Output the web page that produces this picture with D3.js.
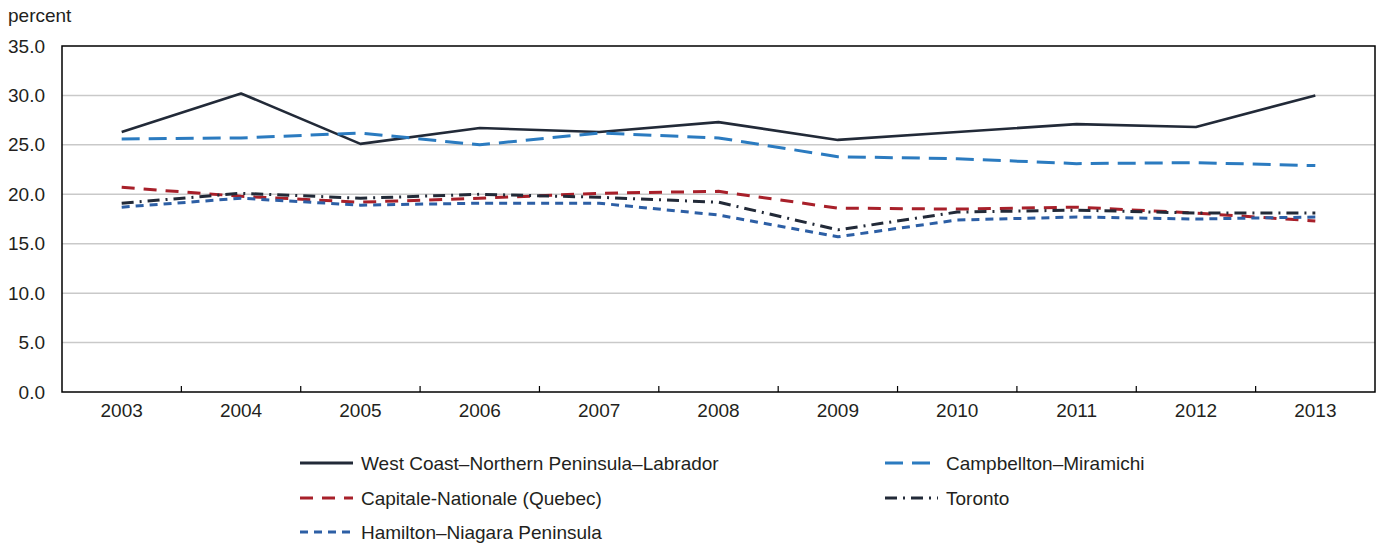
<!DOCTYPE html>
<html><head><meta charset="utf-8">
<script src="https://cdn.jsdelivr.net/npm/d3@7/dist/d3.min.js"></script>
<style>
html,body{margin:0;padding:0;background:#fff;}
text{font-family:"Liberation Sans",Arial,sans-serif;fill:#231f20;}
</style></head>
<body>
<svg id="chart" width="1377" height="544"></svg>
<script>
const years = ["2003","2004","2005","2006","2007","2008","2009","2010","2011","2012","2013"];
const westCoast   = [26.3,30.2,25.1,26.7,26.3,27.3,25.5,26.3,27.1,26.8,30.0];
const campbellton = [25.6,25.7,26.2,25.0,26.2,25.7,23.8,23.6,23.1,23.2,22.9];
const capitale    = [20.7,19.8,19.2,19.6,20.1,20.3,18.6,18.5,18.7,18.1,17.3];
const toronto     = [19.1,20.1,19.6,20.0,19.7,19.2,16.4,18.2,18.4,18.1,18.1];
const hamilton    = [18.7,19.6,18.9,19.1,19.1,17.9,15.7,17.4,17.7,17.5,17.7];
const yTicks = [0,5,10,15,20,25,30,35];
const yLabel = "percent";

const series = [
  {name:"West Coast–Northern Peninsula–Labrador", values:westCoast, color:"#222a38", dash:null, w:2.6},
  {name:"Campbellton–Miramichi", values:campbellton, color:"#2b7bc0", dash:"18,9", w:3},
  {name:"Capitale-Nationale (Quebec)", values:capitale, color:"#a8202a", dash:"13,9", w:3},
  {name:"Toronto", values:toronto, color:"#222a38", dash:"12,6,2,6", w:3},
  {name:"Hamilton–Niagara Peninsula", values:hamilton, color:"#2d5fa5", dash:"8,6", w:3}
];

const FS = 19;
const L=62, R=1375, T=46, B=392;
const svg = d3.select("#chart");
const x = d3.scaleBand().domain(years).range([L,R]).padding(0);
const y = d3.scaleLinear().domain([0,35]).range([B,T]);
const cx = d => x(d)+x.bandwidth()/2;

// grid
svg.append("g").selectAll("line").data(yTicks.filter(t=>t>0 && t<35)).join("line")
  .attr("x1",L).attr("x2",R).attr("y1",d=>y(d)).attr("y2",d=>y(d))
  .attr("stroke","#c9c9c9").attr("stroke-width",1.5);

// y axis labels
const ya = svg.append("g").attr("transform",`translate(${L},0)`)
  .call(d3.axisLeft(y).tickValues(yTicks).tickFormat(d3.format(".1f")).tickSize(0).tickPadding(17));
ya.select(".domain").remove();
ya.selectAll("text").attr("font-size",FS).attr("font-family","Liberation Sans, Arial, sans-serif").attr("fill","#231f20");

// x axis labels
const xa = svg.append("g").attr("transform",`translate(0,${B})`)
  .call(d3.axisBottom(x).tickSize(0).tickPadding(12));
xa.select(".domain").remove();
xa.selectAll("text").attr("font-size",FS).attr("font-family","Liberation Sans, Arial, sans-serif").attr("fill","#231f20");

// x tick marks (inward) at band boundaries
svg.append("g").selectAll("line").data(years.slice(1)).join("line")
  .attr("x1",d=>x(d)).attr("x2",d=>x(d)).attr("y1",B).attr("y2",B-6)
  .attr("stroke","#000").attr("stroke-width",1.2);

// lines
const line = d3.line().x((d,i)=>cx(years[i])).y(d=>y(d));
svg.append("g").selectAll("path").data(series).join("path")
  .attr("d",d=>line(d.values)).attr("fill","none")
  .attr("stroke",d=>d.color).attr("stroke-width",d=>d.w)
  .attr("stroke-dasharray",d=>d.dash).attr("stroke-linejoin","round");

// frame
svg.append("rect").attr("x",L).attr("y",T).attr("width",R-L).attr("height",B-T)
  .attr("fill","none").attr("stroke","#000").attr("stroke-width",1.5);

// y label
svg.append("text").attr("x",8).attr("y",22).attr("font-size",FS).text(yLabel);

// legend
const legPos = [[300,463],[885,463],[300,498],[885,498],[300,532]];
const lg = svg.append("g").selectAll("g").data(series).join("g")
  .attr("transform",(d,i)=>`translate(${legPos[i][0]},${legPos[i][1]})`);
lg.append("line").attr("x1",0).attr("x2",53).attr("y1",0).attr("y2",0)
  .attr("stroke",d=>d.color).attr("stroke-width",3).attr("stroke-dasharray",d=>d.dash);
lg.append("text").attr("x",61).attr("y",7).attr("font-size",FS).text(d=>d.name);
</script>
</body></html>
